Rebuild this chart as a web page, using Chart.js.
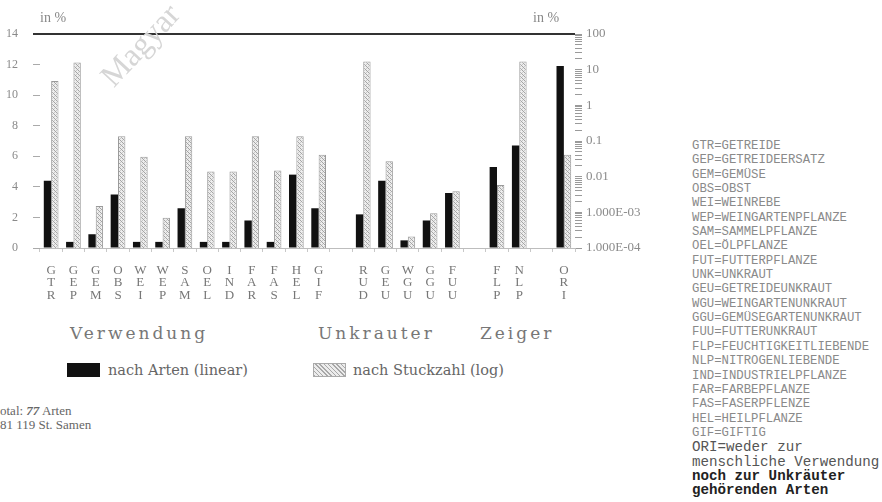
<!DOCTYPE html>
<html><head><meta charset="utf-8">
<script src="https://cdn.jsdelivr.net/npm/chart.js@4.4.0/dist/chart.umd.min.js"></script>
<style>
html,body{margin:0;padding:0;background:#fff;}
#wrap{position:relative;width:882px;height:502px;overflow:hidden;background:#fff;font-family:"Liberation Serif",serif;}
#c{position:absolute;left:0;top:0;width:660px;height:308px;}
.t{position:absolute;white-space:nowrap;}
.grp{font-family:"DejaVu Serif",serif;font-size:17px;letter-spacing:3px;color:#777;line-height:17px;top:325px;}
.leg{font-family:"DejaVu Serif",serif;font-size:14.5px;color:#666;line-height:15px;top:363px;}
.box{position:absolute;top:363px;width:33px;height:14px;}
.pct{font-size:14px;color:#888;line-height:14px;top:11px;}
.tot{font-size:13px;color:#666;line-height:14px;left:0;}
#list{left:692px;top:139px;font-family:"Liberation Mono",monospace;line-height:14.35px;}
#list .s{font-size:12.3px;color:#8a8a8a;}
#list .b{font-size:14.2px;color:#555;}
#list .bb{font-size:14.2px;color:#222;font-weight:bold;}
#wm{left:140px;top:45px;font-size:32px;color:#d6d6d6;transform:translate(-50%,-50%) rotate(-47deg);}
</style></head><body>
<div id="wrap">
<canvas id="c" width="660" height="308"></canvas>
<div class="t" id="wm">Magyar</div>
<div class="t pct" style="left:40px;">in %</div>
<div class="t pct" style="left:533px;">in %</div>
<div class="t grp" style="left:70px;">Verwendung</div>
<div class="t grp" style="left:318px;">Unkrauter</div>
<div class="t grp" style="left:480px;">Zeiger</div>
<div class="box" style="left:67px;background:#111;"></div>
<div class="t leg" id="leg1" style="left:108px;"></div>
<div class="box" style="left:313px;background:repeating-linear-gradient(45deg,#a8a8a8 0 1px,#ececec 1px 3px);border:1px solid #aaa;box-sizing:border-box;"></div>
<div class="t leg" id="leg2" style="left:353px;"></div>
<div class="t tot" style="top:404px;">otal: <b><i>77</i></b> Arten</div>
<div class="t tot" style="top:418px;">81 119 St. Samen</div>
<div class="t" id="list"></div>
</div>
<script>
// ---- data ----
const categories = [
  ['G','T','R'],['G','E','P'],['G','E','M'],['O','B','S'],['W','E','I'],['W','E','P'],
  ['S','A','M'],['O','E','L'],['I','N','D'],['F','A','R'],['F','A','S'],['H','E','L'],
  ['G','I','F'],'',
  ['R','U','D'],['G','E','U'],['W','G','U'],['G','G','U'],['F','U','U'],'',
  ['F','L','P'],['N','L','P'],'',
  ['O','R','I']
];
const nachArtenLinear = [4.4,0.4,0.9,3.5,0.4,0.4,2.6,0.4,0.4,1.8,0.4,4.8,2.6,null,
  2.2,4.4,0.5,1.8,3.6,null,5.3,6.7,null,11.9];
const nachStueckzahlLog = [4.8,16,0.0015,0.135,0.036,0.0007,0.135,0.014,0.014,0.135,0.015,0.135,0.041,null,
  17,0.027,0.00021,0.00095,0.0039,null,0.0058,17,null,0.041];
const seriesNames = ['nach Arten (linear)','nach Stuckzahl (log)'];
const leftTickValues = [0,2,4,6,8,10,12,14];
const rightDecades = [0.0001,0.001,0.01,0.1,1,10,100];
const rightTickLabels = ['1.000E-04','1.000E-03','0.01','0.1','1','10','100'];
const groupNames = ['Verwendung','Unkrauter','Zeiger'];
const legendLines = [
  'GTR=GETREIDE','GEP=GETREIDEERSATZ','GEM=GEMÜSE','OBS=OBST','WEI=WEINREBE',
  'WEP=WEINGARTENPFLANZE','SAM=SAMMELPFLANZE','OEL=ÖLPFLANZE','FUT=FUTTERPFLANZE',
  'UNK=UNKRAUT','GEU=GETREIDEUNKRAUT','WGU=WEINGARTENUNKRAUT','GGU=GEMÜSEGARTENUNKRAUT',
  'FUU=FUTTERUNKRAUT','FLP=FEUCHTIGKEITLIEBENDE','NLP=NITROGENLIEBENDE',
  'IND=INDUSTRIELPFLANZE','FAR=FARBEPFLANZE','FAS=FASERPFLENZE','HEL=HEILPFLANZE','GIF=GIFTIG'
];
const noteLines = ['ORI=weder zur','menschliche Verwendung','noch zur Unkräuter','gehörenden Arten'];

// ---- text blocks ----
document.getElementById('leg1').textContent = seriesNames[0];
document.getElementById('leg2').textContent = seriesNames[1];
const list = document.getElementById('list');
legendLines.forEach(s=>{const d=document.createElement('div');d.className='s';d.textContent=s;list.appendChild(d);});
noteLines.forEach((s,i)=>{const d=document.createElement('div');d.className=i<2?'b':'bb';d.textContent=s;list.appendChild(d);});

// ---- pattern ----
const pc = document.createElement('canvas'); pc.width=4; pc.height=4;
const p = pc.getContext('2d');
p.fillStyle='#ededed'; p.fillRect(0,0,4,4);
p.fillStyle='#a4a4a4';
p.fillRect(0,0,1,1); p.fillRect(1,1,1,1); p.fillRect(2,2,1,1); p.fillRect(3,3,1,1);
p.fillStyle='#c8c8c8'; p.fillRect(2,0,1,1); p.fillRect(0,2,1,1);
const hatch = p.createPattern(pc,'repeat');

// ticks for right log axis: decades plus minor 2..9
const rightTickValues = [];
rightDecades.forEach((d,i)=>{
  rightTickValues.push(d);
  if(i<rightDecades.length-1){ for(let k=2;k<=9;k++) rightTickValues.push(+(d*k).toPrecision(3)); }
});
function decadeLabel(v){
  for(let i=0;i<rightDecades.length;i++){ if(Math.abs(v-rightDecades[i])<rightDecades[i]*1e-6) return rightTickLabels[i]; }
  return '';
}

new Chart(document.getElementById('c'), {
  type:'bar',
  data:{
    labels:categories,
    datasets:[
      {label:seriesNames[0],data:nachArtenLinear,yAxisID:'y',backgroundColor:'#111',borderWidth:0},
      {label:seriesNames[1],data:nachStueckzahlLog,yAxisID:'y2',backgroundColor:hatch,borderColor:'#9a9a9a',borderWidth:1}
    ]
  },
  options:{
    responsive:false,animation:false,devicePixelRatio:1,
    categoryPercentage:0.66,barPercentage:1.0,
    layout:{padding:{top:34,left:0,right:0,bottom:0}},
    plugins:{legend:{display:false},tooltip:{enabled:false}},
    scales:{
      x:{
        type:'category',
        grid:{drawOnChartArea:false,offset:true,tickLength:4,color:'#c8c8c8'},
        border:{color:'#bdbdbd',width:1},
        ticks:{autoSkip:false,maxRotation:0,padding:12,color:'#777',
          font:{family:'Liberation Serif',size:13,lineHeight:0.96}},
        afterFit:(s)=>{s.height=60;}
      },
      y:{
        position:'left',min:0,max:14,
        afterBuildTicks:(s)=>{s.ticks=leftTickValues.map(v=>({value:v}));},
        grid:{
          color:(c)=>c.tick&&c.tick.value===14?'#333':'rgba(0,0,0,0)',
          tickColor:(c)=>c.tick&&c.tick.value===14?'#333':'#aaa',
          lineWidth:(c)=>c.tick&&c.tick.value===14?2:1,
          tickLength:7
        },
        border:{display:false},
        ticks:{padding:15,color:'#8a8a8a',font:{family:'Liberation Serif',size:12}},
        afterFit:(s)=>{s.width=40;}
      },
      y2:{
        type:'logarithmic',position:'right',min:0.0001,max:100,
        afterBuildTicks:(s)=>{s.ticks=rightTickValues.map(v=>({value:v}));},
        grid:{drawOnChartArea:false,tickLength:7,tickColor:'#9a9a9a',color:'#9a9a9a'},
        border:{display:false},
        ticks:{autoSkip:false,padding:4,color:'#8a8a8a',font:{family:'Liberation Serif',size:13},
          callback:(v)=>decadeLabel(v)},
        afterFit:(s)=>{s.width=85;}
      }
    }
  }
});
</script>
</body></html>
